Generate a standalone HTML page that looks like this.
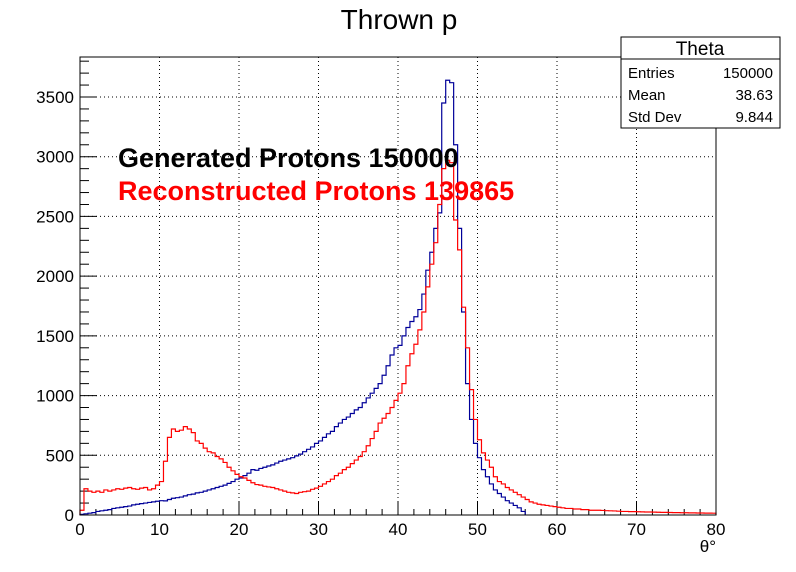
<!DOCTYPE html>
<html><head><meta charset="utf-8"><style>
body{margin:0;background:#fff;}
svg{display:block;font-family:"Liberation Sans",sans-serif;}
</style></head><body>
<svg id="c" width="796" height="572">
<text x="399" y="29" font-size="28" text-anchor="middle">Thrown p</text>
<g id="grid"></g>
<g id="axes"></g>
<path id="blue" fill="none" stroke="#000099" stroke-width="1.2"></path>
<path id="red" fill="none" stroke="#ff0000" stroke-width="1.2"></path>
<rect x="80" y="57" width="636" height="458" fill="none" stroke="#000"></rect>
<text x="118" y="167" font-size="27" font-weight="bold">Generated Protons 150000</text>
<text x="118" y="200" font-size="27" font-weight="bold" fill="#ff0000">Reconstructed Protons 139865</text>
<text x="716" y="552" font-size="17" text-anchor="end">θ°</text>
<g>
<rect x="621" y="37" width="159" height="91" fill="#fff" stroke="#000"></rect>
<line x1="621" y1="59" x2="780" y2="59" stroke="#000"></line>
<text x="700" y="55" font-size="19" text-anchor="middle">Theta</text>
<text x="628" y="78" font-size="15">Entries</text><text x="773" y="78" font-size="15" text-anchor="end">150000</text>
<text x="628" y="100" font-size="15">Mean</text><text x="773" y="100" font-size="15" text-anchor="end">38.63</text>
<text x="628" y="122" font-size="15">Std Dev</text><text x="773" y="122" font-size="15" text-anchor="end">9.844</text>
</g>
</svg>
<script>
const binWidth = 0.5;
const xTicks = [0,10,20,30,40,50,60,70,80];
const yTicks = [0,500,1000,1500,2000,2500,3000,3500];
const generated = [5,10,15,20,30,35,40,45,55,60,65,70,75,85,90,95,100,105,110,115,
120,118,130,140,145,150,160,170,175,185,190,200,210,220,230,240,250,265,280,300,
310,330,350,380,375,390,400,410,420,435,450,460,470,480,495,510,530,550,570,600,
620,650,680,700,740,770,800,820,850,880,900,940,980,1020,1060,1100,1170,1250,1340,1400,
1420,1500,1570,1620,1660,1720,1850,2050,2200,2400,2530,3450,3640,3620,3100,2400,1700,1100,800,600,
480,380,320,260,210,180,150,120,100,80,60,30];
const reconstructed = [40,220,200,190,200,190,210,200,210,220,215,225,230,220,215,225,230,210,220,250,
280,450,650,720,700,710,740,720,690,620,600,560,530,520,490,470,440,400,370,340,
320,310,290,270,255,250,240,235,230,220,210,200,190,185,180,190,195,200,215,225,
240,260,280,300,330,350,380,400,430,460,490,530,580,640,700,770,810,850,900,960,
1020,1100,1250,1350,1430,1550,1700,1910,2100,2280,2600,2900,2970,2950,2470,2220,1740,1400,1050,800,
630,520,460,400,320,280,260,230,210,190,170,150,130,110,100,90,85,80,75,70,
65,60,55,55,50,50,45,45,40,40,40,38,36,35,34,32,30,30,28,28,
27,26,25,25,24,23,22,22,21,20,20,19,19,18,18,17,17,16,16,15];
const X0=80,X1=716,Y0=515,Y1=97;
const sx=v=>X0+(v/80)*(X1-X0);
const sy=v=>Y0-(v/3500)*(Y0-Y1);
const NS="http://www.w3.org/2000/svg";
function mk(tag,attrs,parent){const e=document.createElementNS(NS,tag);for(const k in attrs)e.setAttribute(k,attrs[k]);parent.appendChild(e);return e;}
const grid=document.getElementById('grid'),axes=document.getElementById('axes');
xTicks.forEach(t=>{
  if(t>0&&t<80){const l=mk('line',{x1:sx(t),x2:sx(t),y1:57,y2:515,stroke:'#000','stroke-dasharray':'1,3'},grid);
  
  }
  const tl=mk('line',{x1:sx(t),x2:sx(t),y1:515,y2:502,stroke:'#000'},axes);
  
  
  const tx=mk('text',{x:sx(t),y:535,'font-size':17,'text-anchor':'middle'},axes);tx.textContent=t;
  
  
});
for(let t=0;t<=80;t+=2){if(t%10)mk('line',{x1:sx(t),x2:sx(t),y1:515,y2:509,stroke:'#000'},axes);}
yTicks.forEach(t=>{
  if(t>0){const l=mk('line',{x1:80,x2:716,y1:sy(t),y2:sy(t),stroke:'#000','stroke-dasharray':'1,3'},grid);
  
  }
  const tl=mk('line',{x1:80,x2:97,y1:sy(t),y2:sy(t),stroke:'#000'},axes);
  
  
  const tx=mk('text',{x:74,y:sy(t)+6,'font-size':17,'text-anchor':'end'},axes);tx.textContent=t;
  
  
});
for(let t=0;t<=3800;t+=100){if(t%500&&sy(t)>57)mk('line',{x1:80,x2:89,y1:sy(t),y2:sy(t),stroke:'#000'},axes);}
function step(arr){let d='M'+sx(0)+','+sy(0);arr.forEach((v,i)=>{d+=' L'+sx(i*binWidth)+','+sy(v)+' L'+sx((i+1)*binWidth)+','+sy(v);});d+=' L'+sx(arr.length*binWidth)+','+sy(0);return d;}
document.getElementById('blue').setAttribute('d',step(generated));
document.getElementById('red').setAttribute('d',step(reconstructed));
</script>
</body></html>
